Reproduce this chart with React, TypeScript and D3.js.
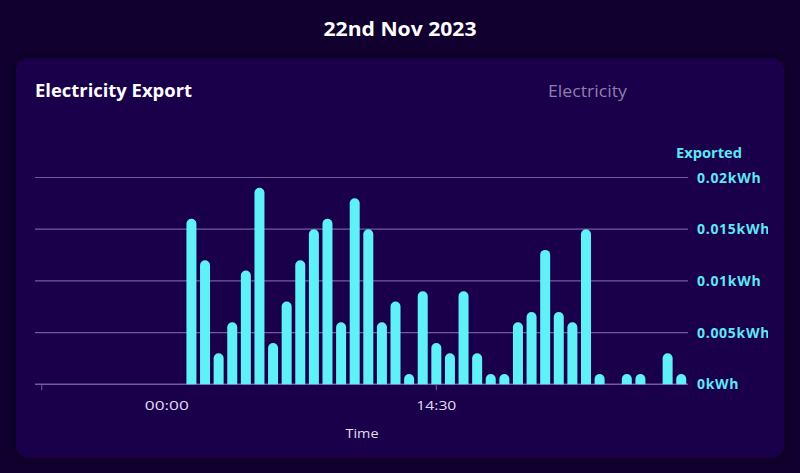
import React from "react";
import * as d3 from "d3";

const slots: string[] = Array.from({ length: 48 }, (_, i) => {
  const h = Math.floor(i / 2);
  const m = i % 2 === 0 ? "00" : "30";
  return `${String(h).padStart(2, "0")}:${m}`;
});

const exported: number[] = [
  0, 0, 0, 0, 0, 0, 0, 0, 0, 0, 0,
  0.016, 0.012, 0.003, 0.006, 0.011, 0.019, 0.004, 0.008, 0.012, 0.015,
  0.016, 0.006, 0.018, 0.015, 0.006, 0.008, 0.001, 0.009, 0.004, 0.003,
  0.009, 0.003, 0.001, 0.001, 0.006, 0.007, 0.013, 0.007, 0.006, 0.015,
  0.001, 0, 0.001, 0.001, 0, 0.003, 0.001,
];

const yTicks: number[] = [0, 0.005, 0.01, 0.015, 0.02];
const xTickSlots: string[] = ["00:00", "14:30"];

const W = 800;
const H = 473;
const FONT = "'Open Sans', Lato, sans-serif";

export default function App() {
  const plot = { left: 35, right: 688, top: 177.5, bottom: 384.3 };
  const x = d3
    .scaleBand<string>()
    .domain(slots)
    .range([plot.left, plot.right])
    .paddingInner(0.265)
    .paddingOuter(0.13);
  const y = d3.scaleLinear().domain([0, 0.02]).range([plot.bottom, plot.top]);
  const bw = x.bandwidth();
  const r = bw / 2;

  const barPath = (v: number, s: string) => {
    if (v <= 0) return null;
    const x0 = x(s)!;
    const yt = y(v);
    const yb = y(0);
    const rr = Math.min(r, yb - yt);
    return `M${x0},${yb} L${x0},${yt + rr} A${r},${rr} 0 0 1 ${x0 + bw},${yt + rr} L${x0 + bw},${yb} Z`;
  };

  const tickX = (s: string) => x(s)! + bw / 2;

  return (
    <svg
      width={W}
      height={H}
      style={{ position: "fixed", left: 0, top: 0, display: "block" }}
    >
      <defs>
        <filter id="shadow" x="-10%" y="-10%" width="120%" height="120%">
          <feGaussianBlur stdDeviation="3" />
        </filter>
        <clipPath id="yclip">
          <rect x={0} y={0} width={768} height={H} />
        </clipPath>
      </defs>
      <rect x={0} y={0} width={W} height={H} fill="#11002f" />
      <rect x={15} y={57} width={771} height={403} rx={14} fill="#0a001c" filter="url(#shadow)" opacity={0.7} />
      <rect x={16} y={58} width={768} height={400} rx={13} fill="#1a004b" />

      <text x={400} y={36} textAnchor="middle" fill="#ffffff" fontFamily={FONT} fontWeight={700} fontSize={20} textLength={153} lengthAdjust="spacingAndGlyphs">
        22nd Nov 2023
      </text>
      <text x={35} y={97} fill="#ffffff" fontFamily={FONT} fontWeight={700} fontSize={17} textLength={157} lengthAdjust="spacingAndGlyphs">
        Electricity Export
      </text>
      <text x={548} y={97} fill="#8c7fb0" fontFamily={FONT} fontSize={16} textLength={79} lengthAdjust="spacingAndGlyphs">
        Electricity
      </text>

      {yTicks.slice(1).map((t) => (
        <line key={t} x1={plot.left} x2={plot.right} y1={y(t)} y2={y(t)} stroke="#6f5c9c" strokeWidth={1.2} />
      ))}
      <line x1={plot.left} x2={plot.right} y1={y(0)} y2={y(0)} stroke="#6f5c9c" strokeWidth={1.5} />

      {exported.map((v, i) => {
        const d = barPath(v, slots[i]);
        return d ? <path key={i} d={d} fill="#5ff0f8" /> : null;
      })}

      {xTickSlots.map((s) => (
        <line key={s} x1={tickX(s)} x2={tickX(s)} y1={y(0)} y2={y(0) + 6} stroke="#6f5c9c" strokeWidth={1} />
      ))}
      <text x={tickX("00:00") + 125} y={410} textAnchor="middle" fill="#e0dcef" fontFamily={FONT} fontSize={13} textLength={44} lengthAdjust="spacingAndGlyphs">
        00:00
      </text>
      <text x={tickX("14:30")} y={410} textAnchor="middle" fill="#e0dcef" fontFamily={FONT} fontSize={13} textLength={40} lengthAdjust="spacingAndGlyphs">
        14:30
      </text>
      <text x={362} y={438} textAnchor="middle" fill="#e0dcef" fontFamily={FONT} fontSize={13} textLength={33} lengthAdjust="spacingAndGlyphs">
        Time
      </text>

      <text x={676} y={158} fill="#5fe6f3" fontFamily={FONT} fontWeight={700} fontSize={13.5} textLength={66} lengthAdjust="spacingAndGlyphs">
        Exported
      </text>
      <g clipPath="url(#yclip)">
        {yTicks.map((t) => (
          <text
            key={t}
            x={697}
            y={y(t)}
            dy="0.36em"
            fill="#5fe6f3"
            fontFamily={FONT}
            fontWeight={700}
            fontSize={14}
            letterSpacing={0.7}
          >
            {`${t}kWh`}
          </text>
        ))}
      </g>
    </svg>
  );
}
